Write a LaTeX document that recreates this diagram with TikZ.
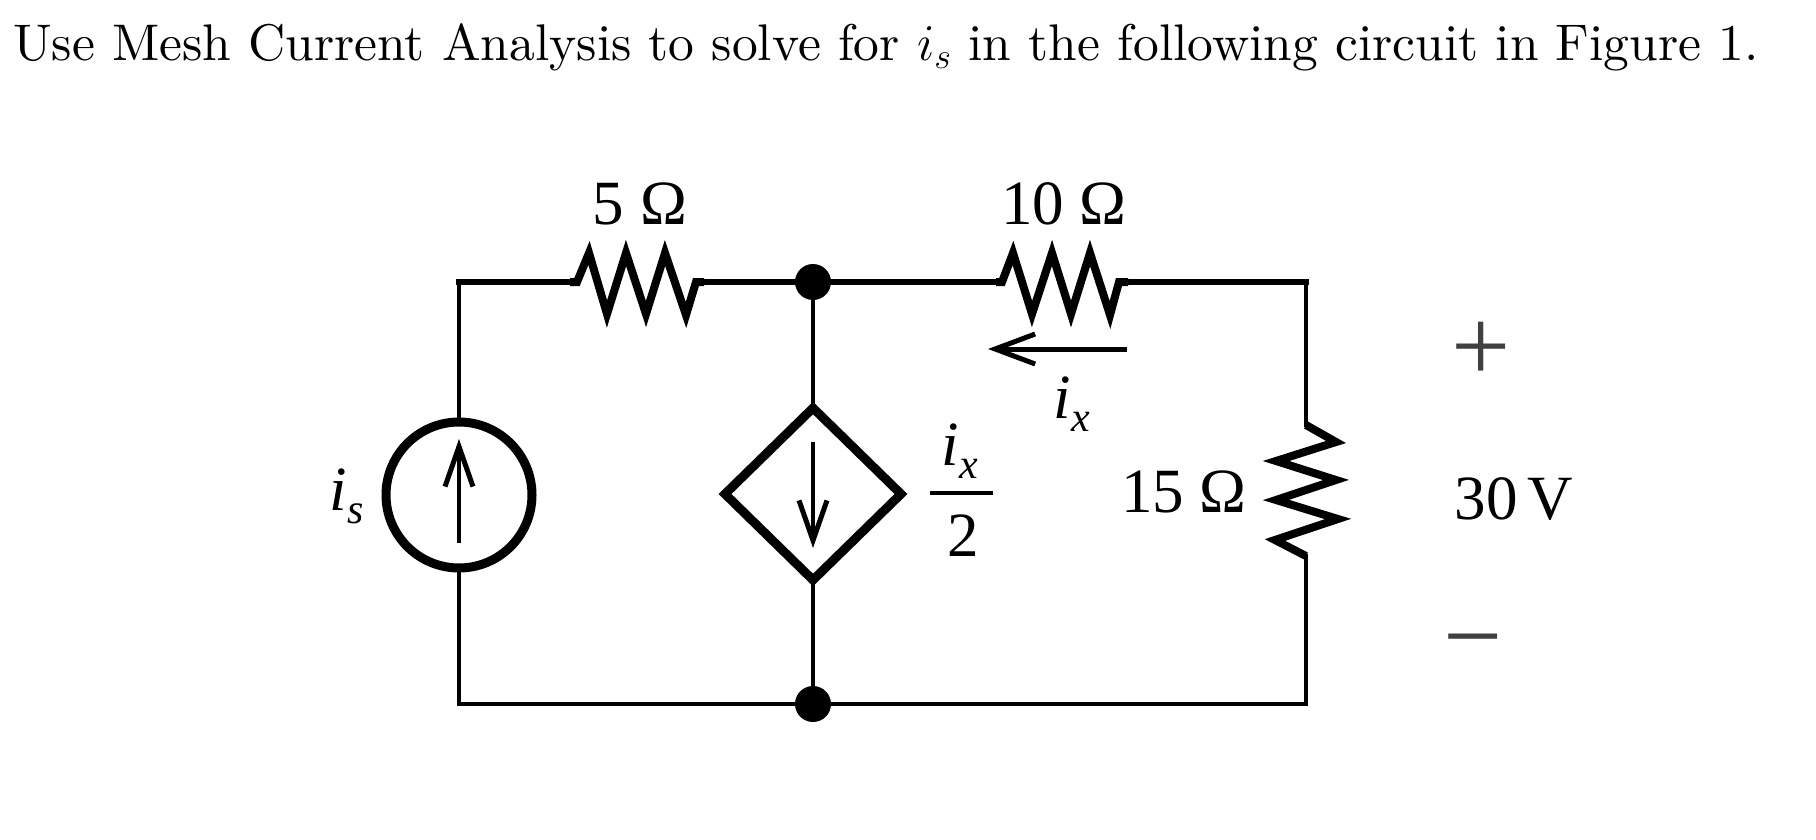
\documentclass[tikz,border=0pt]{standalone}
\usepackage{fix-cm}
\usepackage{fontspec}
\usetikzlibrary{arrows.meta,shapes.geometric}
\newfontfamily\lib{Liberation Serif}
\newfontfamily\ttl[Extension=.otf]{lmroman10-regular}
\DeclareMathSizes{51.55}{51.55}{36}{26}
\newcommand{\bigtxt}{\fontsize{63}{70}\selectfont\lib}
\newcommand{\Ivar}[1]{{\fontsize{63}{70}\selectfont\lib\itshape i}\kern1pt\raisebox{-13pt}{\fontsize{42}{46}\selectfont\lib\itshape #1}}
\tikzset{
  wire/.style={line width=4pt,line cap=rect,line join=miter},
  topwire/.style={line width=5.5pt,line cap=rect,line join=miter},
  zig/.style={line width=8pt,line join=miter,miter limit=10},
  dot/.style={circle,fill=black,inner sep=0pt,outer sep=0pt,minimum size=36pt},
  srcshape/.style={circle,draw,line width=9pt,inner sep=0pt,outer sep=0pt,minimum size=146pt},
  depshape/.style={diamond,draw,line width=9pt,inner sep=0pt,outer sep=0pt,minimum width=176pt,minimum height=172pt,aspect=1},
  flow/.style={line width=4pt,-{Straight Barb[length=40pt,width=28pt,line width=5pt]}},
  lbl/.style={inner sep=0pt,font=\bigtxt,anchor=base},
  pm/.style={inner sep=0pt,text=black!75,anchor=center}
}
\begin{document}
\begin{tikzpicture}[x=1pt,y=-1pt]
\useasboundingbox (0,0) rectangle (1816,840);
% title
\node[inner sep=0pt,anchor=base west,font=\fontsize{51.55}{58}\selectfont\ttl] (title) at (13,61)
  {Use Mesh Current Analysis to solve for $i_s$ in the following circuit in Figure 1.};
% corners and joints
\coordinate (tl) at (459,282);
\coordinate (bl) at (459,704);
\coordinate (tr) at (1306,282);
\coordinate (br) at (1306,704);
\node[dot] (ntop) at (813,282) {};
\node[dot] (nbot) at (813,704) {};
% resistor ends
\coordinate (r1a) at (570,282);
\coordinate (r1b) at (704,282);
\coordinate (r2a) at (996,282);
\coordinate (r2b) at (1128,282);
\coordinate (r3a) at (1306,425);
\coordinate (r3b) at (1306,556);
\coordinate (srcn) at (459,422);
\coordinate (srcs) at (459,568);
\coordinate (depn) at (813,408);
\coordinate (deps) at (813,580);
% wires
\draw[wire] (srcn) -- (tl);
\draw[topwire] (tl) -- (r1a);
\draw[topwire] (r1b) -- (ntop);
\draw[topwire] (ntop) -- (r2a);
\draw[topwire] (r2b) -- (tr);
\draw[wire] (tr) -- (r3a);
\draw[wire] (r3b) -- (br);
\draw[wire] (br) -- (nbot);
\draw[wire] (nbot) -- (bl);
\draw[wire] (bl) -- (srcs);
\draw[wire] (ntop) -- (depn);
\draw[wire] (deps) -- (nbot);
\node[srcshape,fill=white] (src) at (459,495) {};
\node[depshape,fill=white] (dep) at (813,494) {};
% resistors
\draw[zig] (r1a) -- (577,282) -- (589,253) -- (607,314) -- (626,253) -- (646,314) -- (665,253) -- (686,315) -- (696,282) -- (r1b);
\draw[zig] (r2a) -- (1002,282) -- (1013,253) -- (1032,314) -- (1052,253) -- (1071,314) -- (1090,253) -- (1110,315) -- (1119,282) -- (r2b);
\draw[zig] (r3a) -- (1336,442) -- (1276,461) -- (1336,480) -- (1276,500) -- (1338,519) -- (1275,540) -- (r3b);
% source arrows
\coordinate (sa) at (459,543);
\coordinate (sb) at (459,439);
\draw[flow] (sa) -- (sb);
\coordinate (da) at (813,442);
\coordinate (db) at (813,548);
\draw[flow] (da) -- (db);
% ix arrow
\coordinate (xa) at (1127,349);
\coordinate (xb) at (988,349);
\draw[line width=5pt,-{Straight Barb[length=40pt,width=30pt,line width=5pt]}] (xa) -- (xb);
% fraction bar
\coordinate (fa) at (930,493);
\coordinate (fb) at (993,493);
\draw[line width=4pt] (fa) -- (fb);
% labels
\node[lbl] (l5) at (640,224) {5 \char"03A9};
\node[lbl] (l10) at (1064,224) {10 \char"03A9};
\node[lbl] (l15) at (1184,512) {15 \char"03A9};
\node[lbl] (l30) at (1514,519) {30\kern10pt V};
\node[inner sep=0pt,anchor=base west] (lis) at (329,510) {\Ivar{s}};
\node[inner sep=0pt,anchor=base west] (lix) at (1053,418) {\Ivar{x}};
\node[inner sep=0pt,anchor=base west] (lfx) at (941,465) {\Ivar{x}};
\node[lbl] (l2) at (963,556) {2};
\node[pm,font=\fontsize{105}{110}\selectfont\lib] (plus) at (1481,352) {+};
\node[pm,font=\fontsize{105}{110}\selectfont\lib] (minus) at (1473,653) {\char"2212};
\end{tikzpicture}
\end{document}
